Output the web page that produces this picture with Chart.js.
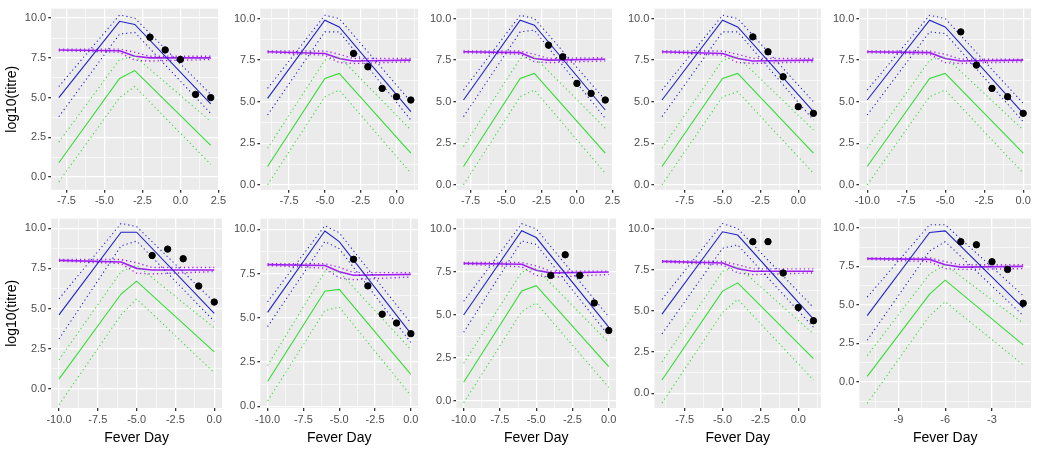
<!DOCTYPE html>
<html>
<head>
<meta charset="utf-8">
<script src="https://cdn.jsdelivr.net/npm/chart.js@4/dist/chart.umd.min.js"></script>
<style>
  body { margin: 0; background: #fff; width: 1037px; height: 457px; overflow: hidden; }
  .panel { position: absolute; }
</style>
</head>
<body>
<div id="wrap"></div>
<script>
// knots per panel: [start, peak, peak+1, end]
const panelStart = [-8, -9, -8, -9, -10, -10, -10, -10, -9, -11];
const panelEnd   = [2, 1, 2, 1, 0, 0, 0, 0, 1, -1];
const panelPeak  = [-4, -5, -4, -5, -6, -6, -6, -6, -5, -7];
const xStep      = [2.5, 2.5, 2.5, 2.5, 2.5, 2.5, 2.5, 2.5, 2.5, 3];

const blueMid = [[5.0,9.8,9.6,4.6],[5.2,9.9,9.5,4.4],[5.1,9.9,9.6,4.5],[5.1,9.9,9.5,4.4],[5.1,9.9,9.5,4.3],
                 [4.6,9.75,9.75,4.7],[5.3,9.9,9.3,4.1],[5.0,9.9,9.5,4.3],[4.8,9.8,9.6,4.5],[4.3,9.7,9.8,4.8]];
const blueHi  = [[5.7,10.2,10.0,5.2],[5.8,10.2,10.0,5.0],[5.7,10.2,10.0,5.1],[5.7,10.2,10.0,5.0],[5.7,10.2,10.0,4.9],
                 [5.6,10.3,10.1,5.4],[5.9,10.2,9.8,4.7],[5.8,10.3,10.0,4.9],[5.7,10.3,10.0,5.2],[5.5,10.2,10.2,5.6]];
const blueLo  = [[3.8,9.0,9.1,4.0],[4.2,9.2,9.2,3.9],[4.1,9.2,9.3,4.0],[4.1,9.2,9.2,3.9],[4.2,9.2,9.1,3.8],
                 [3.1,8.9,9.2,4.2],[4.5,9.3,8.9,3.6],[4.0,9.3,9.1,3.8],[3.6,8.8,9.0,4.0],[2.7,8.5,9.1,4.3]];
const greenMid = [[0.9,6.2,6.7,2.0],[1.1,6.4,6.7,1.9],[1.1,6.4,6.7,1.9],[1.1,6.4,6.7,1.9],[1.1,6.4,6.7,1.9],
                  [0.6,5.9,6.7,2.3],[1.4,6.5,6.6,1.8],[1.1,6.4,6.7,2.0],[0.8,6.2,6.7,2.1],[0.35,5.7,6.6,2.4]];
const greenHi  = [[2.2,7.4,7.6,3.5],[2.2,7.5,7.7,3.3],[2.3,7.6,7.7,3.4],[2.2,7.5,7.7,3.3],[2.2,7.5,7.7,3.3],
                  [1.8,7.3,7.7,3.8],[2.3,7.6,7.6,3.2],[2.2,7.5,7.7,3.4],[1.9,7.4,7.7,3.6],[1.7,7.0,7.6,3.8]];
const greenLo  = [[-0.3,5.0,5.7,0.8],[0.0,5.3,5.7,0.7],[0.0,5.3,5.7,0.7],[0.0,5.3,5.6,0.7],[0.0,5.3,5.7,0.7],
                  [-1.0,4.6,5.6,1.0],[0.3,5.4,5.6,0.6],[-0.1,5.2,5.7,0.8],[-0.6,4.9,5.7,0.8],[-1.4,4.3,5.2,1.1]];
// purple knots: [start, peak, peak+1, peak+2, end]
const purpleMid = [[8.0,7.95,7.6,7.5,7.5],[8.0,7.9,7.6,7.45,7.5],[8.0,7.95,7.6,7.5,7.55],[8.0,7.9,7.6,7.45,7.5],[8.0,7.95,7.6,7.45,7.5],
                   [8.0,7.9,7.5,7.4,7.4],[8.0,7.95,7.6,7.4,7.45],[8.0,7.95,7.6,7.45,7.5],[8.0,7.9,7.55,7.4,7.4],[8.0,7.95,7.6,7.45,7.5]];
const purpleHi  = [[8.05,8.05,7.85,7.6,7.6],[8.05,8.05,7.85,7.6,7.6],[8.05,8.05,7.85,7.6,7.65],[8.05,8.05,7.85,7.6,7.6],[8.05,8.05,7.85,7.55,7.55],
                   [8.05,8.05,7.85,7.55,7.55],[8.05,8.05,7.85,7.55,7.55],[8.05,8.05,7.85,7.55,7.55],[8.05,8.0,7.8,7.55,7.55],[8.05,8.05,7.8,7.6,7.6]];
const purpleLo  = [[7.95,7.85,7.35,7.3,7.4],[7.95,7.8,7.35,7.3,7.4],[7.95,7.85,7.4,7.35,7.45],[7.95,7.8,7.35,7.3,7.4],[7.95,7.85,7.35,7.3,7.4],
                   [7.95,7.8,7.2,7.15,7.3],[7.95,7.8,7.25,7.15,7.3],[7.95,7.8,7.3,7.2,7.35],[7.95,7.8,7.3,7.2,7.3],[7.95,7.8,7.35,7.3,7.35]];
// observed titres at days end-4 .. end
const obsY = [[8.8,8.0,7.4,5.2,5.0],[7.9,7.1,5.8,5.3,5.1],[8.4,7.7,6.1,5.5,5.1],[8.9,8.0,6.5,4.7,4.3],[9.2,7.2,5.8,5.3,4.3],
              [8.3,8.7,8.1,6.4,5.4],[8.3,6.8,5.2,4.7,4.1],[7.3,8.5,7.3,5.7,4.1],[9.2,9.2,7.3,5.2,4.4],[9.1,8.9,7.8,7.3,5.1]];
const yMin = [-0.8,-0.3,-0.3,-0.3,-0.3,-1.2,-0.1,-0.4,-0.9,-1.7];

// panel boxes (left, top, width, height)
const boxes = [[0,0,228,210],[228,0,196,210],[424,0,198,210],[622,0,205,210],[827,0,210,210],
               [0,210,228,247],[228,210,196,247],[424,210,198,247],[622,210,205,247],[827,210,210,247]];

const greyBg = {
  id: 'greyBg',
  beforeDraw(chart) {
    const a = chart.chartArea, c = chart.ctx;
    c.save(); c.fillStyle = '#EBEBEB'; c.fillRect(a.left, a.top, a.width, a.height); c.restore();
  }
};

function mk(days, ys) { return ys.map((y, i) => ({ x: days[i], y: y })); }
function lineSet(data, color, dotted, w) {
  return { type: 'line', data: data, borderColor: color, borderWidth: w || 1.1, pointRadius: 0,
           borderDash: dotted ? [1.2, 3] : [], fill: false, tension: 0, order: 2 };
}
function halfTicks(step) {
  return function (scale) {
    const h = step / 2, out = [];
    for (let v = Math.ceil(scale.min / h) * h; v <= scale.max + 1e-9; v += h) out.push({ value: +v.toFixed(4) });
    scale.ticks = out;
  };
}
function isMajor(v, step) { return Math.abs(v / step - Math.round(v / step)) < 1e-6; }

const wrap = document.getElementById('wrap');
boxes.forEach((b, i) => {
  const div = document.createElement('div');
  div.className = 'panel';
  div.style.left = b[0] + 'px'; div.style.top = b[1] + 'px';
  const cv = document.createElement('canvas');
  cv.width = b[2]; cv.height = b[3];
  cv.style.width = b[2] + 'px'; cv.style.height = b[3] + 'px';
  div.appendChild(cv); wrap.appendChild(div);

  const s = panelStart[i], e = panelEnd[i], p = panelPeak[i], st = xStep[i];
  const d4 = [s, p, p + 1, e], d5 = [s, p, p + 1, p + 2, e];
  const obs = obsY[i].map((y, k) => ({ x: e - 4 + k, y: y }));
  const firstCol = i % 5 === 0, bottom = i >= 5;

  new Chart(cv, {
    type: 'line',
    data: {
      datasets: [
        lineSet(mk(d4, greenLo[i]), '#33DD33', true),
        lineSet(mk(d4, greenHi[i]), '#33DD33', true),
        lineSet(mk(d4, greenMid[i]), '#33DD33', false),
        lineSet(mk(d4, blueLo[i]), '#2222CC', true),
        lineSet(mk(d4, blueHi[i]), '#2222CC', true),
        lineSet(mk(d4, blueMid[i]), '#2222CC', false),
        lineSet(mk(d5, purpleLo[i]), '#A020F0', true, 1.4),
        lineSet(mk(d5, purpleHi[i]), '#A020F0', true, 1.4),
        lineSet(mk(d5, purpleMid[i]), '#A020F0', false, 1.6),
        { type: 'scatter', data: obs, backgroundColor: '#000', borderColor: '#000', pointRadius: 3.2, order: 1 }
      ]
    },
    options: {
      responsive: false, animation: false,
      layout: { padding: { top: 8, right: 6, left: firstCol ? 0 : 4, bottom: bottom ? 6 : 0 } },
      plugins: { legend: { display: false }, tooltip: { enabled: false } },
      scales: {
        x: {
          type: 'linear', min: s - 0.5, max: e + 0.5,
          afterBuildTicks: halfTicks(st),
          grid: {
            color: '#FFFFFF',
            lineWidth: c => isMajor(c.tick.value, st) ? 1.3 : 0.6,
            tickColor: c => isMajor(c.tick.value, st) ? '#333333' : 'rgba(0,0,0,0)',
            tickLength: 3, drawTicks: true
          },
          border: { display: false },
          ticks: {
            color: '#4D4D4D', font: { family: 'Liberation Sans', size: 11 }, maxRotation: 0, autoSkip: false, padding: 2,
            callback: v => isMajor(v, st) ? (st === 3 ? String(v) : v.toFixed(1)) : ''
          },
          title: { display: bottom, text: 'Fever Day', color: '#000', font: { family: 'Liberation Sans', size: 14 }, padding: { top: 2 } }
        },
        y: {
          type: 'linear', min: yMin[i], max: 10.6,
          afterBuildTicks: halfTicks(2.5),
          grid: {
            color: '#FFFFFF',
            lineWidth: c => isMajor(c.tick.value, 2.5) ? 1.3 : 0.6,
            tickColor: c => isMajor(c.tick.value, 2.5) ? '#333333' : 'rgba(0,0,0,0)',
            tickLength: 3
          },
          border: { display: false },
          ticks: {
            color: '#4D4D4D', font: { family: 'Liberation Sans', size: 11 }, padding: 2,
            callback: v => isMajor(v, 2.5) ? v.toFixed(1) : ''
          },
          title: { display: firstCol, text: 'log10(titre)', color: '#000', font: { family: 'Liberation Sans', size: 14 }, padding: { bottom: 2 } }
        }
      }
    },
    plugins: [greyBg]
  });
});
</script>
</body>
</html>
